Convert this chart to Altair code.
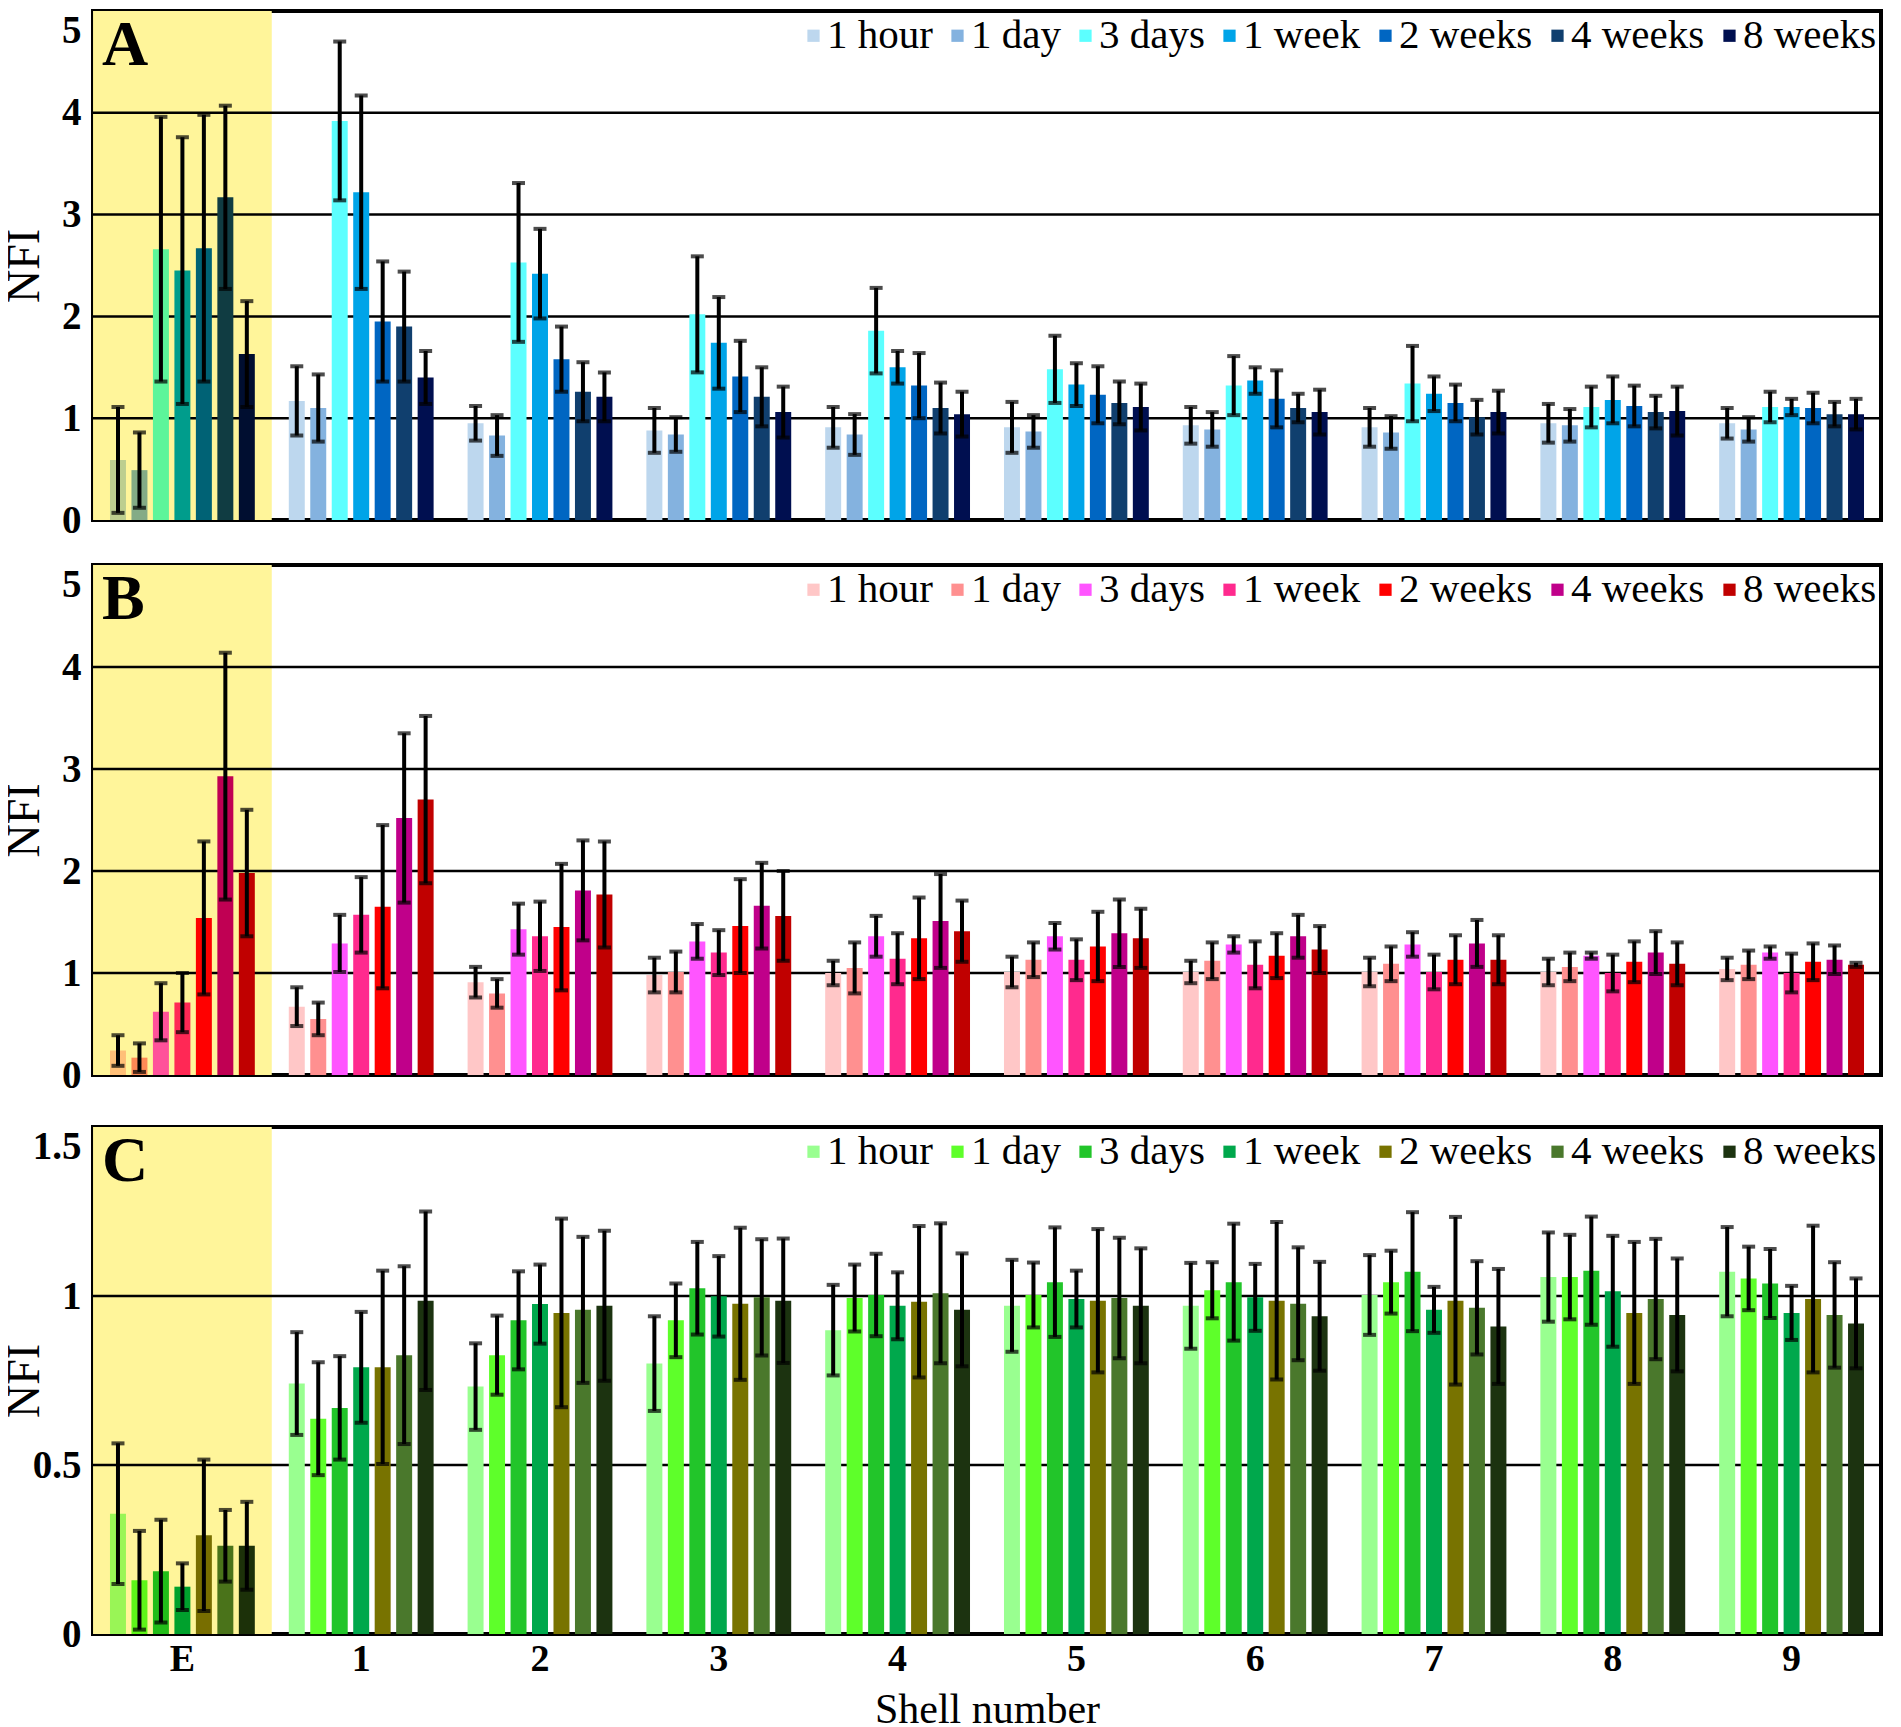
import altair as alt
import pandas as pd

SERIF = "Liberation Serif"
YELLOW = "#fff59a"

shells = ["E", "1", "2", "3", "4", "5", "6", "7", "8", "9"]
times = ["1 hour", "1 day", "3 days", "1 week", "2 weeks", "4 weeks", "8 weeks"]

# ---- Panel A (means and error half-widths per time point, one value per shell) ----
A_1hour = [0.59, 1.17, 0.95, 0.88, 0.91, 0.91, 0.93, 0.91, 0.95, 0.95]
A_1day = [0.49, 1.10, 0.83, 0.84, 0.84, 0.87, 0.89, 0.86, 0.93, 0.89]
A_3days = [2.66, 3.92, 2.53, 2.02, 1.86, 1.48, 1.32, 1.34, 1.11, 1.11]
A_1week = [2.45, 3.22, 2.42, 1.74, 1.50, 1.33, 1.37, 1.24, 1.18, 1.11]
A_2weeks = [2.67, 1.95, 1.58, 1.41, 1.32, 1.23, 1.19, 1.15, 1.12, 1.10]
A_4weeks = [3.17, 1.90, 1.26, 1.21, 1.10, 1.15, 1.10, 1.01, 1.06, 1.04]
A_8weeks = [1.63, 1.40, 1.21, 1.06, 1.04, 1.11, 1.06, 1.06, 1.07, 1.04]
A_1hour_sd = [0.52, 0.34, 0.17, 0.22, 0.20, 0.25, 0.18, 0.19, 0.19, 0.15]
A_1day_sd = [0.37, 0.33, 0.20, 0.17, 0.20, 0.16, 0.17, 0.16, 0.16, 0.12]
A_3days_sd = [1.30, 0.78, 0.78, 0.57, 0.42, 0.33, 0.29, 0.37, 0.20, 0.15]
A_1week_sd = [1.31, 0.95, 0.44, 0.45, 0.16, 0.21, 0.13, 0.17, 0.23, 0.08]
A_2weeks_sd = [1.31, 0.59, 0.32, 0.35, 0.32, 0.28, 0.28, 0.18, 0.20, 0.15]
A_4weeks_sd = [0.90, 0.54, 0.29, 0.29, 0.25, 0.21, 0.14, 0.17, 0.16, 0.12]
A_8weeks_sd = [0.52, 0.26, 0.24, 0.25, 0.22, 0.23, 0.22, 0.21, 0.24, 0.15]

# ---- Panel B ----
B_1hour = [0.24, 0.67, 0.91, 0.98, 1.00, 1.01, 1.01, 1.01, 1.01, 1.04]
B_1day = [0.17, 0.55, 0.80, 1.01, 1.05, 1.13, 1.12, 1.09, 1.06, 1.08]
B_3days = [0.62, 1.29, 1.43, 1.31, 1.36, 1.36, 1.28, 1.28, 1.17, 1.20]
B_1week = [0.71, 1.57, 1.36, 1.20, 1.14, 1.13, 1.08, 1.01, 1.00, 1.00]
B_2weeks = [1.54, 1.65, 1.45, 1.46, 1.34, 1.26, 1.17, 1.13, 1.11, 1.11]
B_4weeks = [2.93, 2.52, 1.81, 1.66, 1.51, 1.39, 1.36, 1.29, 1.20, 1.13]
B_8weeks = [1.98, 2.70, 1.77, 1.56, 1.41, 1.34, 1.23, 1.13, 1.09, 1.08]
B_1hour_sd = [0.15, 0.19, 0.15, 0.17, 0.12, 0.15, 0.11, 0.14, 0.13, 0.11]
B_1day_sd = [0.14, 0.16, 0.14, 0.20, 0.25, 0.17, 0.18, 0.17, 0.14, 0.14]
B_3days_sd = [0.28, 0.28, 0.25, 0.17, 0.20, 0.13, 0.08, 0.12, 0.03, 0.06]
B_1week_sd = [0.29, 0.37, 0.34, 0.22, 0.25, 0.20, 0.23, 0.17, 0.18, 0.19]
B_2weeks_sd = [0.75, 0.80, 0.62, 0.46, 0.40, 0.34, 0.22, 0.24, 0.20, 0.18]
B_4weeks_sd = [1.21, 0.83, 0.49, 0.42, 0.46, 0.33, 0.21, 0.23, 0.21, 0.14]
B_8weeks_sd = [0.62, 0.82, 0.52, 0.44, 0.30, 0.29, 0.23, 0.24, 0.21, 0.02]

# ---- Panel C ----
C_1hour = [0.356, 0.741, 0.732, 0.800, 0.899, 0.971, 0.971, 1.003, 1.056, 1.072]
C_1day = [0.159, 0.637, 0.825, 0.928, 0.994, 1.003, 1.017, 1.041, 1.056, 1.052]
C_3days = [0.186, 0.669, 0.928, 1.023, 1.003, 1.041, 1.041, 1.072, 1.075, 1.037]
C_1week = [0.140, 0.789, 0.976, 0.999, 0.971, 0.991, 0.996, 0.959, 1.014, 0.950]
C_2weeks = [0.292, 0.789, 0.950, 0.977, 0.983, 0.986, 0.986, 0.986, 0.950, 0.991]
C_4weeks = [0.261, 0.825, 0.959, 0.996, 1.008, 0.994, 0.977, 0.965, 0.991, 0.944]
C_8weeks = [0.261, 0.986, 0.971, 0.986, 0.959, 0.971, 0.940, 0.910, 0.944, 0.919]
C_1hour_sd = [0.208, 0.152, 0.128, 0.140, 0.134, 0.136, 0.127, 0.118, 0.132, 0.132]
C_1day_sd = [0.146, 0.167, 0.117, 0.109, 0.099, 0.096, 0.083, 0.093, 0.125, 0.094]
C_3days_sd = [0.152, 0.153, 0.145, 0.137, 0.122, 0.162, 0.173, 0.176, 0.160, 0.102]
C_1week_sd = [0.069, 0.164, 0.117, 0.119, 0.099, 0.084, 0.099, 0.068, 0.164, 0.080]
C_2weeks_sd = [0.224, 0.286, 0.279, 0.225, 0.224, 0.212, 0.233, 0.248, 0.210, 0.217]
C_4weeks_sd = [0.106, 0.263, 0.216, 0.172, 0.207, 0.178, 0.167, 0.138, 0.178, 0.156]
C_8weeks_sd = [0.130, 0.264, 0.222, 0.184, 0.167, 0.170, 0.161, 0.170, 0.167, 0.133]

A_colors = ["#bdd7ee", "#84b2df", "#5cffff", "#00a4e8", "#0066c2", "#103f6e", "#000f50"]
B_colors = ["#ffc7c7", "#ff9090", "#ff55ff", "#ff2a8e", "#ff0000", "#c0008a", "#c00000"]
C_colors = ["#99ff90", "#5eff2a", "#22c52a", "#00a84c", "#787300", "#4a782c", "#1c3310"]


def long_df(means, sds):
    rows = []
    for t, m, s in zip(times, means, sds):
        for sh, mv, sv in zip(shells, m, s):
            rows.append({"shell": sh, "time": t, "mean": mv, "sd": sv})
    return pd.DataFrame(rows)


def multiply(c, base=YELLOW):
    a = [int(c[i:i + 2], 16) for i in (1, 3, 5)]
    b = [int(base[i:i + 2], 16) for i in (1, 3, 5)]
    return "#" + "".join(f"{(x * y) // 255:02x}" for x, y in zip(a, b))


W = 1788


def panel(df, colors, letter, ymax, yticks, height, show_x):
    blended = [multiply(c) for c in colors]
    if show_x:
        xaxis = alt.Axis(labelFont=SERIF, labelFontSize=38, labelFontWeight="bold",
                         labelColor="black", labelAngle=0, labelPadding=6,
                         ticks=False, domain=False, title="Shell number",
                         titleFont=SERIF, titleFontSize=42, titleFontWeight="normal",
                         titleColor="black", titlePadding=11)
    else:
        xaxis = None
    xenc = alt.X("shell:N", sort=shells,
                 scale=alt.Scale(domain=shells, paddingInner=0.19, paddingOuter=0.095),
                 axis=xaxis)
    xoff = alt.XOffset("time:N", sort=times,
                       scale=alt.Scale(domain=times, paddingInner=0.256, paddingOuter=0))
    yaxis = alt.Axis(values=yticks, format="~g", grid=False, domain=False, ticks=False,
                     tickSize=0, labelPadding=12, labelFont=SERIF, labelFontSize=39,
                     labelFontWeight="bold", labelColor="black",
                     labelBaseline={"condition": {"test": f"datum.value >= {ymax}", "value": "top"},
                                    "value": "middle"},
                     title="NFI", titleFont=SERIF, titleFontSize=46, titleFontWeight="normal",
                     titleColor="black", titleAngle=270, titleAlign="center",
                     titleBaseline="alphabetic", titleX=-55, titleY=height / 2)
    yscale = alt.Scale(domain=[0, ymax], nice=False, zero=True)

    def Y(field):
        return alt.Y(field, scale=yscale, axis=yaxis, title="NFI")

    highlight = alt.Chart(pd.DataFrame({"shell": ["E"]})).mark_bar(
        color=YELLOW, width=alt.RelativeBandSize(1.234)
    ).encode(x=xenc, y=alt.Y(datum=ymax, scale=yscale, axis=yaxis, title="NFI"), y2=alt.datum(0))

    grid = alt.Chart(pd.DataFrame({"v": [v for v in yticks if 0 < v < ymax]})).mark_rule(
        color="black", strokeWidth=2.5
    ).encode(y=Y("v:Q"))

    base = alt.Chart(df).transform_calculate(
        lo="datum.mean - datum.sd", hi="datum.mean + datum.sd"
    )

    bars = base.transform_filter(alt.datum.shell != "E").mark_bar().encode(
        x=xenc, xOffset=xoff, y=Y("mean:Q"),
        color=alt.Color("time:N", sort=times,
                        scale=alt.Scale(domain=times, range=colors),
                        legend=alt.Legend(orient="top-right", direction="horizontal", title=None,
                                          offset=4, padding=0, symbolType="square",
                                          symbolSize=150, symbolStrokeWidth=0,
                                          labelFont=SERIF, labelFontSize=41, labelColor="black",
                                          labelOffset={"expr": "-7"}, columnPadding=4,
                                          labelLimit=0)),
    )
    bars_e = base.transform_filter(alt.datum.shell == "E").mark_bar().encode(
        x=xenc, xOffset=xoff, y=Y("mean:Q"),
        fill=alt.Fill("time:N", sort=times,
                      scale=alt.Scale(domain=times, range=blended), legend=None),
    )
    err = base.mark_rule(color="black", strokeWidth=4).encode(
        x=xenc, xOffset=xoff, y=Y("lo:Q"), y2="hi:Q"
    )
    cap_lo = base.mark_tick(color="black", thickness=4, size=13).encode(
        x=xenc, xOffset=xoff, y=Y("lo:Q")
    )
    cap_hi = base.mark_tick(color="black", thickness=4, size=13).encode(
        x=xenc, xOffset=xoff, y=Y("hi:Q")
    )
    label = alt.Chart(pd.DataFrame({"t": [letter]})).mark_text(
        align="left", baseline="alphabetic", font=SERIF, fontSize=64,
        fontWeight="bold", color="black"
    ).encode(text="t:N", x=alt.value(9), y=alt.value(54))

    return alt.layer(highlight, grid, bars, bars_e, err, cap_lo, cap_hi, label).properties(
        width=W, height=height
    )


dfA = long_df([A_1hour, A_1day, A_3days, A_1week, A_2weeks, A_4weeks, A_8weeks],
              [A_1hour_sd, A_1day_sd, A_3days_sd, A_1week_sd, A_2weeks_sd, A_4weeks_sd, A_8weeks_sd])
dfB = long_df([B_1hour, B_1day, B_3days, B_1week, B_2weeks, B_4weeks, B_8weeks],
              [B_1hour_sd, B_1day_sd, B_3days_sd, B_1week_sd, B_2weeks_sd, B_4weeks_sd, B_8weeks_sd])
dfC = long_df([C_1hour, C_1day, C_3days, C_1week, C_2weeks, C_4weeks, C_8weeks],
              [C_1hour_sd, C_1day_sd, C_3days_sd, C_1week_sd, C_2weeks_sd, C_4weeks_sd, C_8weeks_sd])

pA = panel(dfA, A_colors, "A", 5, [0, 1, 2, 3, 4, 5], 509, False)
pB = panel(dfB, B_colors, "B", 5, [0, 1, 2, 3, 4, 5], 510, False)
pC = panel(dfC, C_colors, "C", 1.5, [0, 0.5, 1, 1.5], 507, True)

top = alt.vconcat(pA, pB, spacing=21).resolve_scale(
    color="independent", fill="independent"
).resolve_legend(color="independent")

chart = alt.vconcat(top, pC, spacing=28).resolve_scale(
    color="independent", fill="independent"
).resolve_legend(color="independent").properties(
    padding={"left": -9, "top": 1, "right": 4, "bottom": 0}, background="white"
).configure_view(stroke="black", strokeWidth=4).configure_axis(labelFont=SERIF, titleFont=SERIF)

chart.save("out.html", embed_options={"renderer": "svg", "actions": False})
